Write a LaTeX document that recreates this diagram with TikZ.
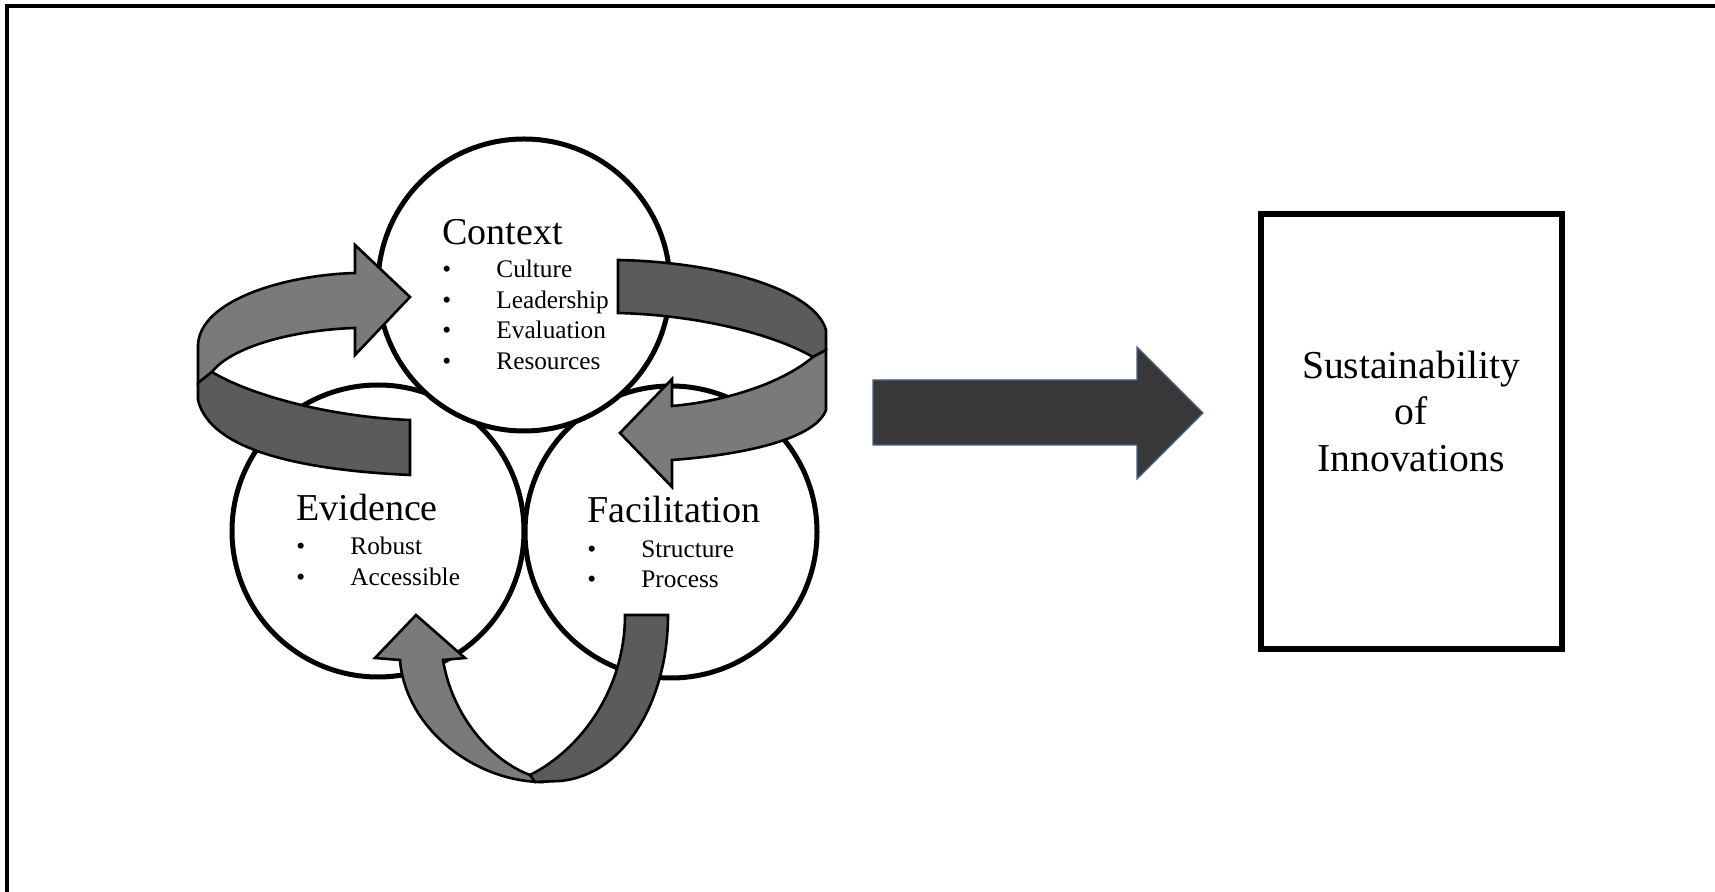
\documentclass[tikz,border=0pt]{standalone}
\usepackage{fontspec}
\setmainfont{Liberation Serif}
\usetikzlibrary{positioning}

\definecolor{bandlight}{HTML}{7A7A7A}
\definecolor{banddark}{HTML}{5B5B5B}
\definecolor{blockgray}{HTML}{383838}
\definecolor{blockedge}{HTML}{44618F}

\newcommand{\headsize}{\fontsize{19}{22}\selectfont}
\newcommand{\itemsize}{\fontsize{12.65}{15.2}\selectfont}
\newcommand{\bul}{\makebox[27pt][l]{\textbullet}}

\tikzset{
    element/.style={circle, draw, line width=2.5pt, fill=white, minimum size=146pt, inner sep=0pt},
    elemtext/.style={anchor=base west, inner sep=0pt, font=\itemsize},
    lightband/.style={draw, fill=bandlight, line width=1.3pt, line join=miter},
    darkband/.style={draw, fill=banddark, line width=1.3pt, line join=miter},
    outcome/.style={draw, line width=2.8pt, minimum width=150.5pt, minimum height=217.5pt, inner sep=0pt},
}

\begin{document}
\begin{tikzpicture}[x=0.5pt, y=-0.5pt]
        \useasboundingbox (0,0) rectangle (1715,892);
        \draw[line width=2pt] (7,892) -- (7,6) -- (1715,6);

        \node[element] (evd) at (378,531) {};
        \node[element] (fac) at (671,532) {};
        \node[element] (ctx) at (524,285) {};

        \node[elemtext] (ctxtext) at (442,245) {\begin{tabular}[t]{@{}l@{}}{\headsize Context}\\[1.3pt]\bul Culture\\ \bul Leadership\\ \bul Evaluation\\ \bul Resources\end{tabular}};
        \node[elemtext] (evdtext) at (296,521) {\begin{tabular}[t]{@{}l@{}}{\headsize Evidence}\\[1.8pt]\bul Robust\\ \bul Accessible\end{tabular}};
        \node[elemtext] (factext) at (587,523) {\begin{tabular}[t]{@{}l@{}}{\headsize Facilitation}\\[2pt]\bul Structure\\ \bul Process\end{tabular}};

        % left loop: evidence -> context
        \draw[lightband] (355,273) -- (355,245) -- (410,297) -- (355,355) -- (355,328)
            .. controls (290,330) and (230,348) .. (212,372) -- (198,383) -- (198,345)
            .. controls (200,300) and (285,275) .. (355,273) -- cycle;
        \draw[darkband] (212,372) .. controls (250,395) and (330,417) .. (410,420) -- (410,475)
            .. controls (300,470) and (210,450) .. (198,400) -- (198,383) -- cycle;

        % right loop: context -> facilitation
        \draw[darkband] (618,260) .. controls (720,262) and (815,290) .. (826,330) -- (826,350) -- (813,357)
            .. controls (775,335) and (700,315) .. (618,313) -- cycle;
        \draw[lightband] (813,357) .. controls (780,385) and (720,402) .. (672,406) -- (672,379) -- (620,433)
            -- (672,487) -- (672,460) .. controls (740,455) and (815,440) .. (826,410) -- (826,350) -- cycle;

        % bottom loop: facilitation -> evidence
        \draw[lightband] (400,660) -- (375,658) -- (416,615) -- (465,658) -- (443,660)
            .. controls (452,715) and (490,760) .. (530,775) -- (540,782)
            .. controls (470,780) and (405,725) .. (400,660) -- cycle;
        \draw[darkband] (625,615) -- (668,615) .. controls (668,700) and (625,775) .. (560,781)
            -- (535,782) -- (530,775) .. controls (580,750) and (625,690) .. (625,615) -- cycle;

        \draw[fill=blockgray, draw=blockedge, line width=0.6pt] (873,380) -- (1137,380) -- (1137,347)
            -- (1203,413) -- (1137,479) -- (1137,445) -- (873,445) -- cycle;

        \node[outcome] (sus) at (1411.5,431.5) {};
        \node[font=\fontsize{19.8}{23.25}\selectfont, align=center, inner sep=0pt] (sustext) at (1411,411) {Sustainability\\of\\Innovations};
\end{tikzpicture}
\end{document}
